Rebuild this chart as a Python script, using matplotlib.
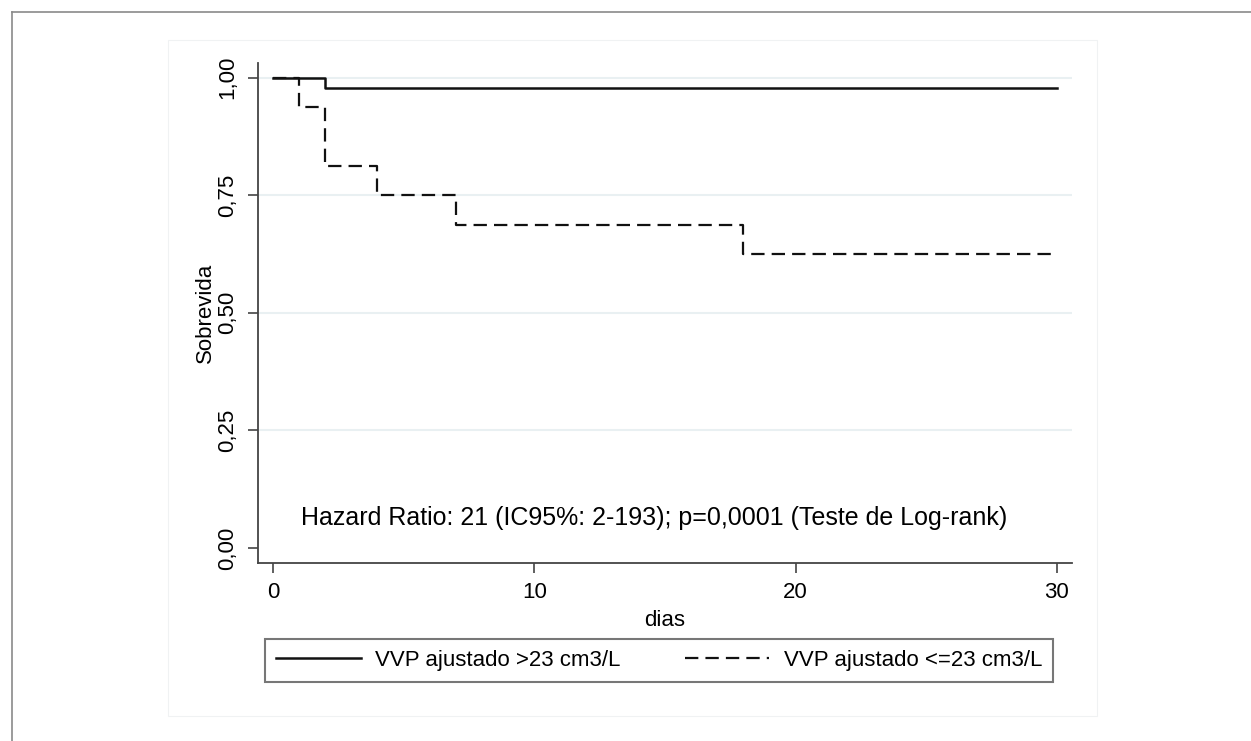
import matplotlib.pyplot as plt
from matplotlib.lines import Line2D
from matplotlib.patches import Rectangle

plt.rcParams['font.family'] = ['Liberation Sans', 'DejaVu Sans']

# Kaplan-Meier steps (dias, sobrevida)
t_high = [0, 2, 30]
s_high = [1.0, 0.977, 0.977]
t_low = [0, 1, 2, 4, 7, 18, 30]
s_low = [1.0, 0.9375, 0.8125, 0.75, 0.6875, 0.625, 0.625]

lbl_high = 'VVP ajustado >23 cm3/L'
lbl_low = 'VVP ajustado <=23 cm3/L'
yticks = [0, 0.25, 0.5, 0.75, 1.0]
ytlabels = ['0,00', '0,25', '0,50', '0,75', '1,00']
xticks = [0, 10, 20, 30]
note = 'Hazard Ratio: 21 (IC95%: 2-193); p=0,0001 (Teste de Log-rank)'

W, H = 1251, 741
FS = 16
fig = plt.figure(figsize=(W / 100, H / 100), dpi=100)
fig.patch.set_facecolor('white')

def fx(px):
    return px / W

def fy(py):
    return 1 - py / H

# outer frame (top and left edges) and faint inner panel
fig.add_artist(Line2D([fx(12), 1], [fy(12), fy(12)], color='#8a8a8a', lw=1.2))
fig.add_artist(Line2D([fx(12), fx(12)], [fy(12), 0], color='#8a8a8a', lw=1.2))
fig.add_artist(Rectangle((fx(168), fy(716)), fx(1097) - fx(168), fy(40) - fy(716),
                         fill=False, ec='#f0f2f3', lw=0.8))

ax = fig.add_axes([fx(258), fy(563), fx(1072) - fx(258), fy(63) - fy(563)])
ax.set_xlim(-0.57, 30.58)
ax.set_ylim(-0.032, 1.031)

for y in yticks[1:]:
    ax.axhline(y, color='#e9f0f2', lw=1.5, zorder=0)

ax.step(t_high, s_high, where='post', color='#111111', lw=1.8, label=lbl_high)
ax.step(t_low, s_low, where='post', color='#111111', lw=1.6,
        linestyle=(0, (6.0, 3.2)), label=lbl_low)

for side in ['top', 'right']:
    ax.spines[side].set_visible(False)
for side in ['left', 'bottom']:
    ax.spines[side].set_color('#444444')
    ax.spines[side].set_linewidth(1.3)

ax.set_yticks(yticks)
ax.set_yticklabels(ytlabels, rotation=90, va='center')
ax.set_xticks(xticks)
ax.tick_params(axis='both', length=7, width=1.2, color='#444444', labelsize=FS, pad=7)
ax.set_xlabel('dias', fontsize=FS, labelpad=5)
ax.set_ylabel('Sobrevida', fontsize=FS, labelpad=1)

ax.text(14.6, 0.064, note, ha='center', va='center', fontsize=18)

handles, labels = ax.get_legend_handles_labels()
leg = fig.legend(handles, labels, loc='upper left', ncol=2,
                 bbox_to_anchor=(fx(265), fy(639)),
                 fontsize=FS, frameon=True, fancybox=False,
                 edgecolor='#555555', handlelength=3.8, handletextpad=0.65,
                 borderpad=0.5, columnspacing=2.9, borderaxespad=0)
leg.get_frame().set_linewidth(1.5)

fig.savefig('out.png', dpi=100, facecolor='white')
